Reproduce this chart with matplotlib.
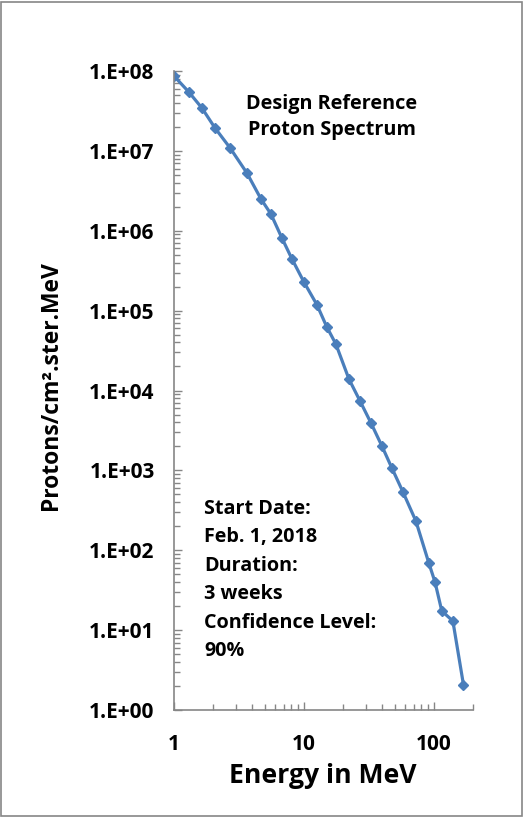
import matplotlib
matplotlib.use("Agg")
import matplotlib.pyplot as plt
from matplotlib.patches import Rectangle
from matplotlib.ticker import LogLocator, FixedLocator, NullFormatter

# donnees (energie en MeV, flux)
energie = [1.0, 1.3, 1.64, 2.07, 2.7, 3.64, 4.67, 5.57, 6.77, 8.09,
           10.0, 12.6, 15.0, 17.6, 22.2, 27.0, 32.8, 39.8, 47.5, 57.8,
           72.7, 91.5, 102, 115, 140, 169]
flux = [8.66e7, 5.46e7, 3.44e7, 1.93e7, 1.09e7, 5.28e6, 2.50e6, 1.62e6, 8.1e5, 4.43e5,
        2.28e5, 1.18e5, 6.24e4, 3.82e4, 1.39e4, 7.4e3, 3.92e3, 2.02e3, 1.07e3, 537,
        232, 69, 40, 17.4, 13, 2.06]

y_ticks = [1e0, 1e1, 1e2, 1e3, 1e4, 1e5, 1e6, 1e7, 1e8]
y_labels = ["1.E+00", "1.E+01", "1.E+02", "1.E+03", "1.E+04", "1.E+05", "1.E+06", "1.E+07", "1.E+08"]
x_ticks = [1, 10, 100]
x_labels = ["1", "10", "100"]

titre = "Design Reference\nProton Spectrum"
infos = "Start Date:\nFeb. 1, 2018\nDuration:\n3 weeks\nConfidence Level:\n90%"

plt.rcParams['font.family'] = ['Open Sans', 'DejaVu Sans']
plt.rcParams['font.weight'] = 'bold'

gris = "#868686"
bleu = "#4A7EBB"

fig = plt.figure(figsize=(5.23, 8.18), dpi=100)
ax = fig.add_axes([0.3327, 0.132, 0.5717, 0.7812])

ax.plot(energie, flux, color=bleu, lw=2.3, marker="D", markersize=5.5,
        markerfacecolor=bleu, markeredgecolor=bleu)

ax.set_xscale("log")
ax.set_yscale("log")
ax.set_xlim(1, 200)
ax.set_ylim(1, 1e8)

ax.yaxis.set_major_locator(FixedLocator(y_ticks))
ax.set_yticklabels(y_labels)
ax.yaxis.set_minor_locator(LogLocator(base=10, subs=range(2, 10), numticks=20))
ax.yaxis.set_minor_formatter(NullFormatter())
ax.xaxis.set_major_locator(FixedLocator(x_ticks))
ax.set_xticklabels(x_labels)
ax.xaxis.set_minor_locator(LogLocator(base=10, subs=range(2, 10), numticks=20))
ax.xaxis.set_minor_formatter(NullFormatter())

for s in ["top", "right"]:
    ax.spines[s].set_visible(False)
for s in ["left", "bottom"]:
    ax.spines[s].set_color(gris)
    ax.spines[s].set_linewidth(1.2)

ax.tick_params(which="major", direction="in", length=6, width=1, color=gris,
               labelsize=15, pad=14)
ax.tick_params(which="minor", direction="in", length=4.5, width=1, color=gris)
ax.tick_params(axis="x", which="major", pad=17)
for lab in ax.get_xticklabels() + ax.get_yticklabels():
    lab.set_fontweight("bold")

ax.set_ylabel("Protons/cm².ster.MeV", fontsize=16.5, fontweight="bold")
ax.yaxis.set_label_coords(-0.37, 0.508)
ax.set_xlabel("Energy in MeV", fontsize=19.2, fontweight="bold")
ax.xaxis.set_label_coords(0.498, -0.083)

ax.text(0.528, 0.928, titre, transform=ax.transAxes, ha="center", va="center",
        fontsize=14.3, fontweight="bold", linespacing=1.43)
ax.text(0.1, 0.331, infos, transform=ax.transAxes, ha="left", va="top",
        fontsize=14.2, fontweight="bold", linespacing=1.57)

# cadre gris autour de la figure
fig.patches.append(Rectangle((0.002, 0.002), 0.996, 0.996, transform=fig.transFigure,
                             fill=False, edgecolor=gris, linewidth=1.2))

fig.savefig("out.png", dpi=100)
